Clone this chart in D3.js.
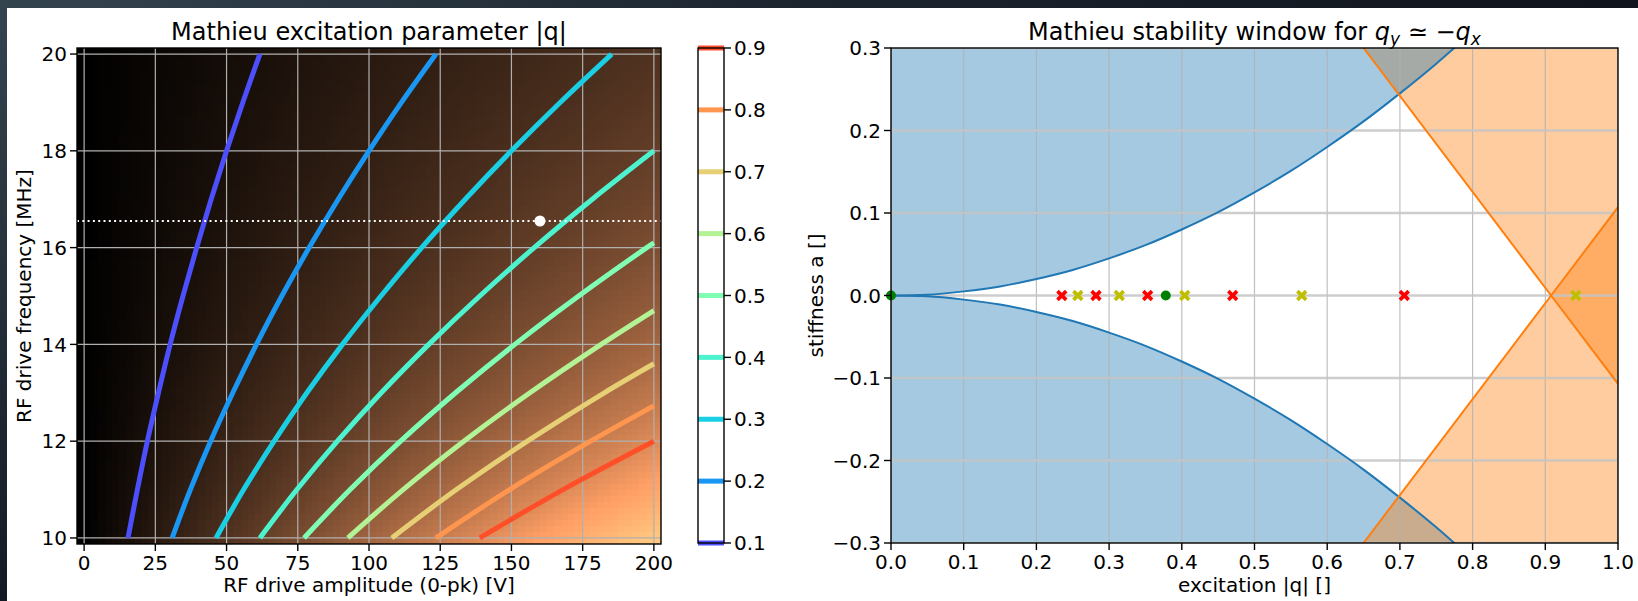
<!DOCTYPE html>
<html><head><meta charset="utf-8">
<script src="https://cdn.jsdelivr.net/npm/d3@7"></script>
<style>
html,body{margin:0;padding:0;background:#fff;overflow:hidden;}
svg text{font-family:"DejaVu Sans",sans-serif;fill:#000;}
</style></head><body>
<svg id="chart" width="1638" height="601"></svg>
<script>
// ---------------- data ----------------
// Left panel: Mathieu q over drive amplitude / frequency grid
const driveVoltCells = d3.range(-1.25, 202.5, 2.5);      // cell centres [V]
const driveFreqCells = d3.range(9.9375, 20.125, 0.125);  // cell centres [MHz]
const qPerVoltOverMHz2 = 0.648;                          // q = 0.9 at 200 V, 12 MHz
const qColorMax = 1.296;                                 // q at 200 V, 10 MHz
const leftXTicks = [0, 25, 50, 75, 100, 125, 150, 175, 200];
const leftYTicks = [10, 12, 14, 16, 18, 20];
const contourLevels = [0.1, 0.2, 0.3, 0.4, 0.5, 0.6, 0.7, 0.8, 0.9];
const contourPoints = [
  [[15.4,10],[18.7,11],[22.2,12],[26.1,13],[30.2,14],[34.7,15],[39.5,16],[44.6,17],[50.0,18],[55.7,19],[61.7,20]],
  [[30.9,10],[37.3,11],[44.4,12],[52.2,13],[60.5,14],[69.4,15],[79.0,16],[89.2,17],[100.0,18],[111.4,19],[123.5,20]],
  [[46.3,10],[56.0,11],[66.7,12],[78.2,13],[90.7,14],[104.2,15],[118.5,16],[133.8,17],[150.0,18],[167.1,19],[185.2,20]],
  [[61.7,10],[74.7,11],[88.9,12],[104.3,13],[121.0,14],[138.9,15],[158.0,16],[178.4,17],[200,18.0]],
  [[77.2,10],[93.4,11],[111.1,12],[130.4,13],[151.2,14],[173.6,15],[197.5,16],[200,16.1]],
  [[92.6,10],[112.0,11],[133.3,12],[156.5,13],[181.5,14],[200,14.7]],
  [[108.0,10],[130.7,11],[155.6,12],[182.6,13],[200,13.6]],
  [[123.5,10],[149.4,11],[177.8,12],[200,12.73]],
  [[138.9,10],[168.1,11],[200,12.0]]
];
const operatingVolts = 160;
const operatingFreq = 16.55;

// Right panel: stability diagram
const boundaryQ = [0,0.05,0.1,0.15,0.2,0.25,0.3,0.35,0.4,0.45,0.5,0.55,0.6,0.65,0.7,0.75,0.8];
const boundaryA = [0,0.001,0.005,0.011,0.02,0.031,0.045,0.061,0.08,0.101,0.125,0.151,0.18,0.211,0.245,0.281,0.32];
const fallingQ = [0.65, 0.908, 1.0];
const fallingA = [0.3, 0.0, -0.107];
const risingQ  = [0.65, 0.908, 1.0];
const risingA  = [-0.3, 0.0, 0.107];
const redQ    = [0.235, 0.282, 0.353, 0.470, 0.706];
const yellowQ = [0.257, 0.314, 0.404, 0.565, 0.942];
const greenQ  = [0.0, 0.378];
const rightXTicks = [0,0.1,0.2,0.3,0.4,0.5,0.6,0.7,0.8,0.9,1.0];
const rightYTicks = [-0.3,-0.2,-0.1,0.0,0.1,0.2,0.3];

// ---------------- styles ----------------
const contourColors = ["#4d4ffc","#1a96f3","#1acfe3","#4df3ce","#80ffb4","#b3f396","#e6cf74","#ff964f","#ff4f28"];
const FS = 20, TFS = 24;

const svg = d3.select("#chart");
const defs = svg.append("defs");

// outer dark frame (screenshot border)
const gTop = defs.append("linearGradient").attr("id","gTop").attr("x1","0").attr("x2","1").attr("y1","0").attr("y2","0");
gTop.append("stop").attr("offset","0").attr("stop-color","#34444f");
gTop.append("stop").attr("offset","0.5").attr("stop-color","#1c242e");
gTop.append("stop").attr("offset","1").attr("stop-color","#10141c");
const gLeft = defs.append("linearGradient").attr("id","gLeft").attr("x1","0").attr("x2","0").attr("y1","0").attr("y2","1");
gLeft.append("stop").attr("offset","0").attr("stop-color","#34444f");
gLeft.append("stop").attr("offset","1").attr("stop-color","#141a24");
svg.append("rect").attr("x",0).attr("y",0).attr("width",1638).attr("height",601).attr("fill","#fff");
svg.append("rect").attr("x",0).attr("y",0).attr("width",1638).attr("height",8).attr("fill","url(#gTop)");
svg.append("rect").attr("x",0).attr("y",0).attr("width",7).attr("height",601).attr("fill","url(#gLeft)");

// ================= LEFT PANEL =================
const L = {x0:77, x1:661, y0:48, y1:544};
const xL = d3.scaleLinear().domain([-2.5, 202.5]).range([L.x0, L.x1]);
const yL = d3.scaleLinear().domain([9.875, 20.125]).range([L.y1, L.y0]);
defs.append("clipPath").attr("id","clipL").append("rect")
  .attr("x",L.x0).attr("y",L.y0).attr("width",L.x1-L.x0).attr("height",L.y1-L.y0);

function copper(t){
  t = Math.max(0, Math.min(1, t));
  return d3.rgb(255*Math.min(1,1.25*t), 255*0.7812*t, 255*0.4975*t);
}
const cells = [];
driveVoltCells.forEach(v => driveFreqCells.forEach(f => {
  cells.push({v, f, q: Math.max(0, qPerVoltOverMHz2 * v / (f*f))});
}));
const gL = svg.append("g").attr("clip-path","url(#clipL)");
gL.append("g").selectAll("rect").data(cells).join("rect")
  .attr("x", d => xL(d.v - 1.25) - 0.3)
  .attr("y", d => yL(d.f + 0.0625) - 0.3)
  .attr("width", xL(2.5) - xL(0) + 0.6)
  .attr("height", yL(10) - yL(10.125) + 0.6)
  .attr("fill", d => copper(d.q / qColorMax))
  .attr("shape-rendering","crispEdges");

// grid
gL.append("g").selectAll("line.v").data(leftXTicks).join("line")
  .attr("x1", d => xL(d)).attr("x2", d => xL(d)).attr("y1", L.y0).attr("y2", L.y1)
  .attr("stroke","#b0b0b0").attr("stroke-width",1.2);
gL.append("g").selectAll("line.h").data(leftYTicks).join("line")
  .attr("y1", d => yL(d)).attr("y2", d => yL(d)).attr("x1", L.x0).attr("x2", L.x1)
  .attr("stroke","#b0b0b0").attr("stroke-width",1.2);

// contour lines
const lineL = d3.line().x(d => xL(d[0])).y(d => yL(d[1])).curve(d3.curveCatmullRom);
gL.append("g").selectAll("path").data(contourPoints).join("path")
  .attr("d", lineL).attr("fill","none")
  .attr("stroke", (d,i) => contourColors[i]).attr("stroke-width",5);

// operating frequency dotted line + point
gL.append("line").attr("x1",L.x0).attr("x2",L.x1)
  .attr("y1",yL(operatingFreq)).attr("y2",yL(operatingFreq))
  .attr("stroke","#fff").attr("stroke-width",2).attr("stroke-dasharray","2,3.3");
gL.append("circle").attr("cx",xL(operatingVolts)).attr("cy",yL(operatingFreq)).attr("r",5.5).attr("fill","#fff");

svg.append("rect").attr("x",L.x0).attr("y",L.y0).attr("width",L.x1-L.x0).attr("height",L.y1-L.y0)
  .attr("fill","none").attr("stroke","#000").attr("stroke-width",1.4);

// ticks
const axL = svg.append("g");
axL.selectAll("line.xt").data(leftXTicks).join("line")
  .attr("x1", d => xL(d)).attr("x2", d => xL(d)).attr("y1", L.y1).attr("y2", L.y1+7)
  .attr("stroke","#000").attr("stroke-width",1.4);
axL.selectAll("text.xt").data(leftXTicks).join("text")
  .attr("x", d => xL(d)).attr("y", L.y1+11).attr("dy","0.76em")
  .attr("text-anchor","middle").attr("font-size",FS).text(d => d);
axL.selectAll("line.yt").data(leftYTicks).join("line")
  .attr("y1", d => yL(d)).attr("y2", d => yL(d)).attr("x1", L.x0-7).attr("x2", L.x0)
  .attr("stroke","#000").attr("stroke-width",1.4);
axL.selectAll("text.yt").data(leftYTicks).join("text")
  .attr("x", L.x0-10).attr("y", d => yL(d)).attr("dy","0.36em")
  .attr("text-anchor","end").attr("font-size",FS).text(d => d);
svg.append("text").attr("x",(L.x0+L.x1)/2).attr("y",40).attr("text-anchor","middle")
  .attr("font-size",TFS).text("Mathieu excitation parameter |q|");
svg.append("text").attr("x",(L.x0+L.x1)/2).attr("y",592).attr("text-anchor","middle")
  .attr("font-size",FS).text("RF drive amplitude (0-pk) [V]");
svg.append("text").attr("transform",`translate(24,${(L.y0+L.y1)/2}) rotate(-90)`).attr("dy","0.35em")
  .attr("text-anchor","middle").attr("font-size",FS).text("RF drive frequency [MHz]");

// colorbar
const C = {x0:698, x1:724, y0:48, y1:543};
const yC = d3.scaleLinear().domain([0.1, 0.9]).range([C.y1, C.y0]);
svg.append("rect").attr("x",C.x0).attr("y",C.y0).attr("width",C.x1-C.x0).attr("height",C.y1-C.y0).attr("fill","#fff");
svg.append("g").selectAll("line").data(contourLevels).join("line")
  .attr("x1",C.x0).attr("x2",C.x1).attr("y1",d => yC(d)).attr("y2",d => yC(d))
  .attr("stroke",(d,i) => contourColors[i]).attr("stroke-width",5);
svg.append("rect").attr("x",C.x0).attr("y",C.y0).attr("width",C.x1-C.x0).attr("height",C.y1-C.y0)
  .attr("fill","none").attr("stroke","#000").attr("stroke-width",1.4);
svg.append("g").selectAll("line").data(contourLevels).join("line")
  .attr("x1",C.x1).attr("x2",C.x1+7).attr("y1",d => yC(d)).attr("y2",d => yC(d))
  .attr("stroke","#000").attr("stroke-width",1.4);
svg.append("g").selectAll("text").data(contourLevels).join("text")
  .attr("x",C.x1+10).attr("y",d => yC(d)).attr("dy","0.36em").attr("font-size",FS)
  .text(d => d3.format(".1f")(d));

// ================= RIGHT PANEL =================
const R = {x0:891, x1:1618, y0:48, y1:543};
const xR = d3.scaleLinear().domain([0, 1]).range([R.x0, R.x1]);
const yR = d3.scaleLinear().domain([-0.3, 0.3]).range([R.y1, R.y0]);
defs.append("clipPath").attr("id","clipR").append("rect")
  .attr("x",R.x0).attr("y",R.y0).attr("width",R.x1-R.x0).attr("height",R.y1-R.y0);
const gR = svg.append("g").attr("clip-path","url(#clipR)");

const bPts = boundaryQ.map((q,i) => [q, boundaryA[i]]);
const fallPts = fallingQ.map((q,i) => [q, fallingA[i]]);
const risePts = risingQ.map((q,i) => [q, risingA[i]]);
const orange = "#ff7f0e", blue = "#1f77b4";

// orange region right of falling line
gR.append("path").attr("d", d3.line()([
    [xR(fallPts[0][0]), yR(fallPts[0][1])],
    [xR(fallPts[2][0]), yR(fallPts[2][1])],
    [xR(1.0), yR(0.3)]]) + "Z")
  .attr("fill", orange).attr("fill-opacity",0.4);
// blue upper region
gR.append("path").attr("d", d3.area().x(d => xR(d[0])).y0(yR(0.36)).y1(d => yR(d[1])).curve(d3.curveMonotoneX)(bPts))
  .attr("fill", blue).attr("fill-opacity",0.4);
// blue lower region
gR.append("path").attr("d", d3.area().x(d => xR(d[0])).y0(yR(-0.36)).y1(d => yR(-d[1])).curve(d3.curveMonotoneX)(bPts))
  .attr("fill", blue).attr("fill-opacity",0.4);
// orange region right of rising line
gR.append("path").attr("d", d3.line()([
    [xR(risePts[0][0]), yR(risePts[0][1])],
    [xR(risePts[2][0]), yR(risePts[2][1])],
    [xR(1.0), yR(-0.3)]]) + "Z")
  .attr("fill", orange).attr("fill-opacity",0.4);

// grid
gR.append("g").selectAll("line").data(rightXTicks).join("line")
  .attr("x1", d => xR(d)).attr("x2", d => xR(d)).attr("y1", R.y0).attr("y2", R.y1)
  .attr("stroke","#b0b0b0").attr("stroke-opacity",0.8).attr("stroke-width",1.2);
gR.append("g").selectAll("line").data(rightYTicks).join("line")
  .attr("y1", d => yR(d)).attr("y2", d => yR(d)).attr("x1", R.x0).attr("x2", R.x1)
  .attr("stroke","#c4c4c4").attr("stroke-opacity",0.85).attr("stroke-width",2.6);

// boundary lines
const lineR = d3.line().x(d => xR(d[0])).y(d => yR(d[1]));
gR.append("path").attr("d", lineR.curve(d3.curveMonotoneX)(bPts)).attr("fill","none").attr("stroke",blue).attr("stroke-width",2);
gR.append("path").attr("d", lineR.curve(d3.curveMonotoneX)(bPts.map(d => [d[0], -d[1]]))).attr("fill","none").attr("stroke",blue).attr("stroke-width",2);
gR.append("path").attr("d", d3.line().x(d => xR(d[0])).y(d => yR(d[1]))(fallPts)).attr("fill","none").attr("stroke",orange).attr("stroke-width",2);
gR.append("path").attr("d", d3.line().x(d => xR(d[0])).y(d => yR(d[1]))(risePts)).attr("fill","none").attr("stroke",orange).attr("stroke-width",2);

// markers
function xMarker(g, qs, color){
  const s = 6.2, t = 3.6;
  const grp = g.append("g").selectAll("g").data(qs).join("g")
    .attr("transform", d => `translate(${xR(d)},${yR(0)})`);
  [45, -45].forEach(rot => {
    grp.append("rect").attr("x",-s).attr("y",-t/2).attr("width",2*s).attr("height",t)
      .attr("transform",`rotate(${rot})`).attr("fill",color);
  });
}
xMarker(gR, redQ, "#ff0000");
xMarker(gR, yellowQ, "#bfbf00");
svg.append("g").selectAll("circle").data(greenQ).join("circle")
  .attr("cx", d => xR(d)).attr("cy", yR(0)).attr("r",5).attr("fill","#008000");

svg.append("rect").attr("x",R.x0).attr("y",R.y0).attr("width",R.x1-R.x0).attr("height",R.y1-R.y0)
  .attr("fill","none").attr("stroke","#000").attr("stroke-width",1.4);

const fmt = d3.format(".1f");
const axR = svg.append("g");
axR.selectAll("line.xt").data(rightXTicks).join("line")
  .attr("x1", d => xR(d)).attr("x2", d => xR(d)).attr("y1", R.y1).attr("y2", R.y1+7)
  .attr("stroke","#000").attr("stroke-width",1.4);
axR.selectAll("text.xt").data(rightXTicks).join("text")
  .attr("x", d => xR(d)).attr("y", R.y1+11).attr("dy","0.76em")
  .attr("text-anchor","middle").attr("font-size",FS).text(d => fmt(d));
axR.selectAll("line.yt").data(rightYTicks).join("line")
  .attr("y1", d => yR(d)).attr("y2", d => yR(d)).attr("x1", R.x0-7).attr("x2", R.x0)
  .attr("stroke","#000").attr("stroke-width",1.4);
axR.selectAll("text.yt").data(rightYTicks).join("text")
  .attr("x", R.x0-10).attr("y", d => yR(d)).attr("dy","0.36em")
  .attr("text-anchor","end").attr("font-size",FS).text(d => fmt(d));

const tR = svg.append("text").attr("x",(R.x0+R.x1)/2).attr("y",40).attr("text-anchor","middle").attr("font-size",TFS);
tR.append("tspan").text("Mathieu stability window for ");
tR.append("tspan").attr("font-style","italic").text("q");
tR.append("tspan").attr("font-style","italic").attr("font-size",17).attr("dy",5).text("y");
tR.append("tspan").attr("dy",-5).text(" \u2243 \u2212");
tR.append("tspan").attr("font-style","italic").text("q");
tR.append("tspan").attr("font-style","italic").attr("font-size",17).attr("dy",5).text("x");

svg.append("text").attr("x",(R.x0+R.x1)/2).attr("y",592).attr("text-anchor","middle")
  .attr("font-size",FS).text("excitation |q| []");
svg.append("text").attr("transform",`translate(816,${(R.y0+R.y1)/2}) rotate(-90)`).attr("dy","0.35em")
  .attr("text-anchor","middle").attr("font-size",FS).text("stiffness a []");
</script>
</body></html>
